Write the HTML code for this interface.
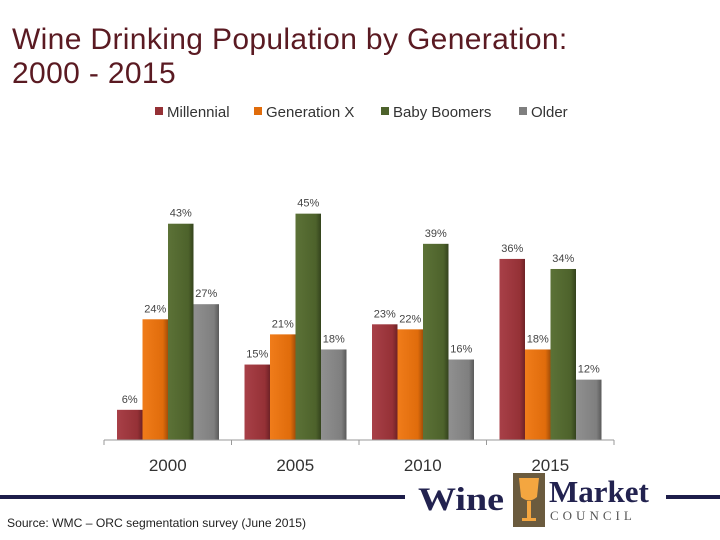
<!DOCTYPE html>
<html><head><meta charset="utf-8"><style>
body{margin:0;width:720px;height:540px;background:#fff;overflow:hidden;font-family:"Liberation Sans",sans-serif;position:relative}
.title{position:absolute;left:12px;top:23px;font-size:30px;line-height:34px;color:#5a1a22;letter-spacing:0.35px}
</style></head><body>
<div class="title">Wine Drinking Population by Generation:<br>2000 - 2015</div>
<svg width="720" height="540" style="position:absolute;left:0;top:0">
<defs>
<linearGradient id="gm" x1="0" x2="1"><stop offset="0" stop-color="#a84048"/><stop offset="0.8" stop-color="#953136"/><stop offset="1" stop-color="#6e2226"/></linearGradient>
<linearGradient id="gg" x1="0" x2="1"><stop offset="0" stop-color="#f07c1a"/><stop offset="0.8" stop-color="#e06c0b"/><stop offset="1" stop-color="#a44e08"/></linearGradient>
<linearGradient id="gb" x1="0" x2="1"><stop offset="0" stop-color="#5c7237"/><stop offset="0.8" stop-color="#4d622b"/><stop offset="1" stop-color="#34431d"/></linearGradient>
<linearGradient id="go" x1="0" x2="1"><stop offset="0" stop-color="#909090"/><stop offset="0.8" stop-color="#7f7f7f"/><stop offset="1" stop-color="#5a5a5a"/></linearGradient>
</defs>
<g id="legend"></g>
<g id="plot"></g>
<line x1="0" y1="497" x2="405" y2="497" stroke="#1d1d4a" stroke-width="4"/>
<line x1="666" y1="497" x2="720" y2="497" stroke="#1d1d4a" stroke-width="4"/>
<g>
<text x="418" y="510" font-family="Liberation Serif,serif" font-weight="bold" font-size="33" fill="#22224f" textLength="86" lengthAdjust="spacingAndGlyphs">Wine</text>
<rect x="513" y="473" width="32" height="54" fill="#6b5b3e"/>
<path d="M519,478 L539,478 L537,497 Q529,504 521,497 Z" fill="#f4a640"/>
<rect x="527" y="501" width="4" height="18" fill="#f4a640"/>
<rect x="522" y="518" width="14" height="3" fill="#f4a640"/>
<text x="549" y="502" font-family="Liberation Serif,serif" font-weight="bold" font-size="31" fill="#22224f">Market</text>
<text x="550" y="520" font-family="Liberation Serif,serif" font-size="13" letter-spacing="4" fill="#555">COUNCIL</text>
</g>
<text x="7" y="527" font-size="12" fill="#222" textLength="299" lengthAdjust="spacingAndGlyphs">Source:  WMC – ORC segmentation survey (June 2015)</text>
</svg>
<script>
const categories=["2000","2005","2010","2015"];
const seriesNames=["Millennial","Generation X","Baby Boomers","Older"];
const millennial=[6,15,23,36];
const genX=[24,21,22,18];
const boomers=[43,45,39,34];
const older=[27,18,16,12];
const series=[millennial,genX,boomers,older];
const fills=["url(#gm)","url(#gg)","url(#gb)","url(#go)"];
const legendColors=["#953136","#e06c0b","#4d622b","#7f7f7f"];
const NS="http://www.w3.org/2000/svg";
const x0=104,catW=127.5,base=440,pxPer=5.03,barW=25.5,off=13;
const y=v=>base-v*pxPer;
const xb=(c,s)=>x0+c*catW+off+s*barW;
const plot=document.getElementById('plot');
function mk(t,a,p){const e=document.createElementNS(NS,t);for(const k in a)e.setAttribute(k,a[k]);p.appendChild(e);return e;}
series.forEach((arr,s)=>{arr.forEach((v,c)=>{
 const r=mk('rect',{x:xb(c,s),y:y(v),width:barW,height:v*pxPer,fill:fills[s]},plot);
 
 
 const t=mk('text',{x:xb(c,s)+barW/2,y:y(v)-7,'text-anchor':'middle','font-size':'11',fill:'#444'},plot);
 t.textContent=v+'%';
 
 
});});
const ax=mk('line',{x1:x0,y1:base,x2:x0+4*catW,y2:base,stroke:'#999','stroke-width':1},plot);


for(let i=0;i<=4;i++){mk('line',{x1:x0+i*catW,y1:base,x2:x0+i*catW,y2:base+5,stroke:'#999'},plot);}
categories.forEach((c,i)=>{
 const t=mk('text',{x:x0+i*catW+catW/2,y:base+31,'text-anchor':'middle','font-size':'17',fill:'#333'},plot);
 t.textContent=c;
 
 
});
const lg=document.getElementById('legend');
const lx=[155,254,381,519];
seriesNames.forEach((n,i)=>{
 const g=mk('g',{},lg);
 
 
 mk('rect',{x:lx[i],y:107,width:8,height:8,fill:legendColors[i]},g);
 const t=mk('text',{x:lx[i]+12,y:117,'font-size':'15',fill:'#333'},g);
 t.textContent=n;
});
</script>
</body></html>
